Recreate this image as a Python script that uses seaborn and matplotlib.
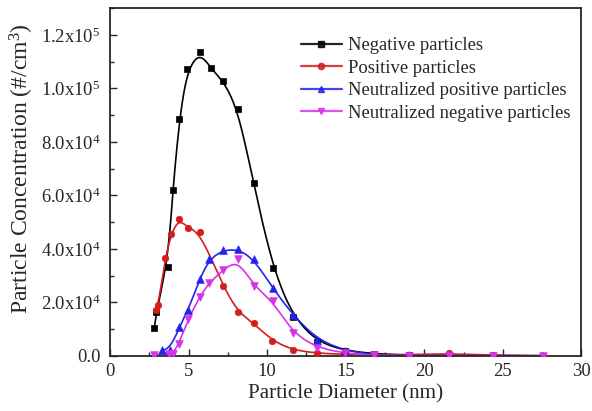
import numpy as np
import pandas as pd
import matplotlib
matplotlib.use("Agg")
import matplotlib.pyplot as plt
from matplotlib.lines import Line2D
from matplotlib.ticker import MultipleLocator, FixedLocator, FixedFormatter
import seaborn as sns

# ---------------- data ----------------
neg_x = [2.82, 2.93, 3.67, 3.99, 4.41, 4.90, 5.71, 6.41, 7.19, 8.14, 9.13, 10.35, 11.62, 13.19, 14.95, 16.8, 19.0, 21.55, 24.4, 27.57]
neg_y = [10600, 16400, 33300, 62000, 88400, 107100, 113700, 107500, 102900, 92500, 64500, 32800, 14700, 5100, 2000, 800, 300, 200, 100, 100]

pos_x = [2.91, 3.07, 3.50, 3.89, 4.37, 4.98, 5.73, 7.19, 8.12, 9.14, 10.31, 11.62, 13.19, 14.91, 16.8, 19.0, 21.55, 24.4, 27.57]
pos_y = [17200, 19100, 36500, 45600, 51300, 47800, 46200, 26100, 16500, 12200, 5700, 2200, 1000, 600, 500, 400, 1000, 200, 0]

npos_x = [3.29, 3.80, 4.41, 4.98, 5.70, 6.32, 7.17, 8.14, 9.14, 10.35, 11.62, 13.19, 14.95, 16.8, 19.0, 21.55, 24.4, 27.57]
npos_y = [2100, 2200, 11000, 17200, 28800, 36200, 39500, 40000, 36300, 25400, 15400, 6000, 2000, 300, 200, 100, 100, 100]

nneg_x = [2.82, 3.77, 3.99, 4.36, 4.98, 5.70, 6.32, 7.17, 8.14, 9.14, 10.35, 11.62, 13.19, 14.95, 16.8, 19.0, 21.55, 24.4, 27.57]
nneg_y = [400, 700, 700, 4500, 13700, 22200, 27400, 32000, 36200, 26000, 20700, 8500, 3000, 1000, 200, 100, 100, 0, 0]

series_names = ["Negative particles", "Positive particles",
                "Neutralized positive particles", "Neutralized negative particles"]

ytick_values = [0, 20000, 40000, 60000, 80000, 100000, 120000]
ytick_labels = ["0.0", r"$\mathregular{2.0x10^{4}}$", r"$\mathregular{4.0x10^{4}}$",
                r"$\mathregular{6.0x10^{4}}$", r"$\mathregular{8.0x10^{4}}$",
                r"$\mathregular{1.0x10^{5}}$", r"$\mathregular{1.2x10^{5}}$"]
xtick_values = [0, 5, 10, 15, 20, 25, 30]

x_label = "Particle Diameter (nm)"
y_label = r"Particle Concentration (#/cm$\mathregular{^{3}}$)"

# ---------------- style ----------------
sns.set_style("ticks")
plt.rcParams["font.family"] = ["Liberation Serif", "DejaVu Serif"]
plt.rcParams["mathtext.fontset"] = "custom"
plt.rcParams["mathtext.rm"] = "Liberation Serif"
plt.rcParams["mathtext.it"] = "Liberation Serif:italic"
plt.rcParams["mathtext.bf"] = "Liberation Serif:bold"

colors = ["#000000", "#d21e1e", "#2323f0", "#d733e6"]
markers = ["s", "o", "^", "v"]
msizes = [20, 22, 30, 30]


def bspline(px, py, n_eval=600):
    """Clamped uniform cubic B-spline using data points as control points."""
    P = np.column_stack([px, py]).astype(float)
    n = len(P)
    k = 3
    knots = np.concatenate([np.zeros(k), np.arange(n - k + 1), np.full(k, n - k)]).astype(float)
    t = np.linspace(0, n - k, n_eval)
    t[-1] -= 1e-9
    B = np.zeros((n_eval, len(knots) - 1))
    for i in range(len(knots) - 1):
        B[:, i] = ((t >= knots[i]) & (t < knots[i + 1])).astype(float)
    for d in range(1, k + 1):
        Bn = np.zeros((n_eval, len(knots) - 1 - d))
        for i in range(len(knots) - 1 - d):
            a = knots[i + d] - knots[i]
            b = knots[i + d + 1] - knots[i + 1]
            term = np.zeros(n_eval)
            if a > 0:
                term += (t - knots[i]) / a * B[:, i]
            if b > 0:
                term += (knots[i + d + 1] - t) / b * B[:, i + 1]
            Bn[:, i] = term
        B = Bn
    C = B @ P
    return C[:, 0], C[:, 1]


fig, ax = plt.subplots(figsize=(5.92, 4.11), dpi=100)
fig.subplots_adjust(left=0.186, right=0.982, top=0.980, bottom=0.134)

all_data = [(neg_x, neg_y), (pos_x, pos_y), (npos_x, npos_y), (nneg_x, nneg_y)]
handles = []
for (xs, ys), name, c, m, s in zip(all_data, series_names, colors, markers, msizes):
    cx, cy = bspline(xs, ys)
    curve = pd.DataFrame({"x": cx, "y": cy})
    sns.lineplot(data=curve, x="x", y="y", sort=False, estimator=None,
                 color=c, linewidth=1.2, ax=ax)
    pts = pd.DataFrame({"x": xs, "y": ys})
    sns.scatterplot(data=pts, x="x", y="y", color=c, marker=m, s=s,
                    edgecolor=c, linewidth=0.5, ax=ax, zorder=3)
    handles.append(Line2D([], [], color=c, marker=m, markersize=4.5,
                          linewidth=1.6, alpha=0.85, label=name))

ax.set_xlim(0, 30)
ax.set_ylim(0, 130000)
ax.xaxis.set_major_locator(FixedLocator(xtick_values))
ax.xaxis.set_minor_locator(MultipleLocator(2.5))
ax.yaxis.set_major_locator(FixedLocator(ytick_values))
ax.yaxis.set_major_formatter(FixedFormatter(ytick_labels))
ax.yaxis.set_minor_locator(MultipleLocator(10000))
ax.tick_params(which="both", direction="in", top=False, right=False, labelsize=13.4, width=1)
ax.tick_params(axis="y", which="major", pad=7)
ax.tick_params(axis="x", which="major", pad=5)
ax.tick_params(which="major", length=5)
ax.tick_params(which="minor", length=3)
for sp in ax.spines.values():
    sp.set_linewidth(1.3)
    sp.set_visible(True)

ax.set_xlabel(x_label, fontsize=15.2, labelpad=3)
ax.set_ylabel(y_label, fontsize=17.0, labelpad=3)
ax.yaxis.set_label_coords(-0.157, 0.54)

ax.legend(handles=handles, loc="upper left", bbox_to_anchor=(0.405, 0.917),
          frameon=False, fontsize=13.4, handlelength=2.2, handletextpad=0.32,
          labelspacing=0.3, borderpad=0, borderaxespad=0)

fig.savefig("out.png", dpi=100)
